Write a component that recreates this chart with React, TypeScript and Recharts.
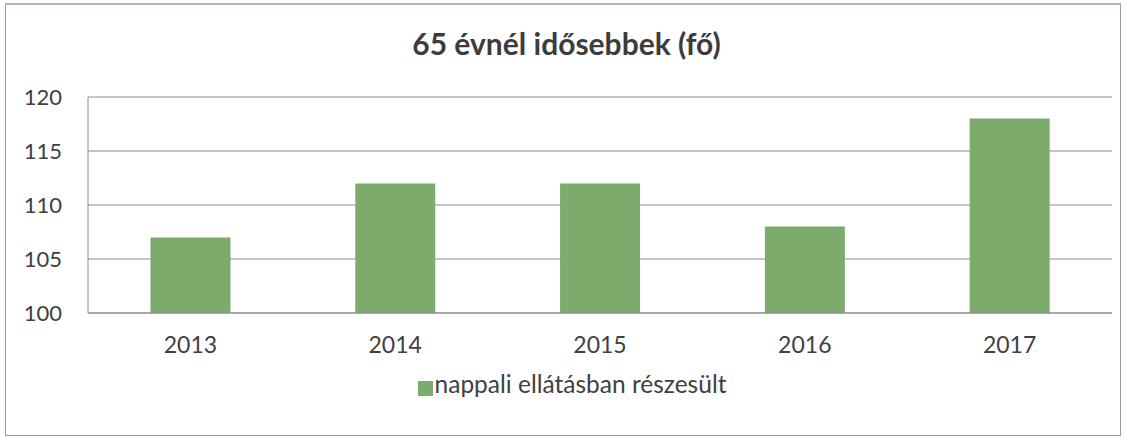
import React from 'react';
import { BarChart, Bar, XAxis, YAxis, CartesianGrid, Legend } from 'recharts';

const years = ['2013', '2014', '2015', '2016', '2017'];
const dayCare = [107, 112, 112, 108, 118];
const yTicks = [100, 105, 110, 115, 120];

const data = years.map((year, i) => ({ year, value: dayCare[i] }));

const FONT = 'Lato, "Open Sans", sans-serif';
const GREEN = '#7dab6b';

const App: React.FC = () => {
  return (
    <div style={{ position: 'fixed', left: 0, top: 0, width: 1127, height: 443, background: '#fff', fontFamily: FONT }}>
      <div
        style={{
          position: 'absolute',
          left: 5,
          top: 3,
          width: 1116,
          height: 433,
          border: '1px solid #9a9a9a',
          borderTop: '2px solid #a9b4c6',
          boxSizing: 'border-box',
        }}
      />
      <div
        style={{
          position: 'absolute',
          left: 3,
          width: 1127,
          top: 25,
          textAlign: 'center',
          fontSize: 30,
          fontWeight: 700,
          color: '#3c3c3c',
        }}
      >
        65 évnél idősebbek (fő)
      </div>
      <BarChart
        width={1127}
        height={443}
        data={data}
        margin={{ top: 97, right: 15, bottom: 0, left: 0 }}
        barCategoryGap="30.5%"
        style={{ position: 'absolute', left: 0, top: 0 }}
      >
        <CartesianGrid vertical={false} stroke="#8c8c8c" strokeWidth={1} />
        <XAxis
          dataKey="year"
          axisLine={{ stroke: '#8c8c8c' }}
          tickLine={false}
          tickMargin={18}
          height={56}
          tick={{ fill: '#404040', fontSize: 23, fontFamily: FONT }}
        />
        <YAxis
          domain={[100, 120]}
          ticks={yTicks}
          width={88}
          axisLine={{ stroke: '#8c8c8c' }}
          tickLine={false}
          tickMargin={20}
          allowDataOverflow
          tick={{ fill: '#404040', fontSize: 22, fontFamily: FONT }}
        />
        <Legend
          verticalAlign="bottom"
          height={74}
          iconType="square"
          iconSize={15}
          wrapperStyle={{ paddingLeft: 21 }}
          formatter={(v) => <span style={{ color: '#404040', fontSize: 24.5, fontFamily: FONT, marginLeft: -2 }}>{v}</span>}
        />
        <Bar dataKey="value" name="nappali ellátásban részesült" fill={GREEN} isAnimationActive={false} />
      </BarChart>
    </div>
  );
};

export default App;
